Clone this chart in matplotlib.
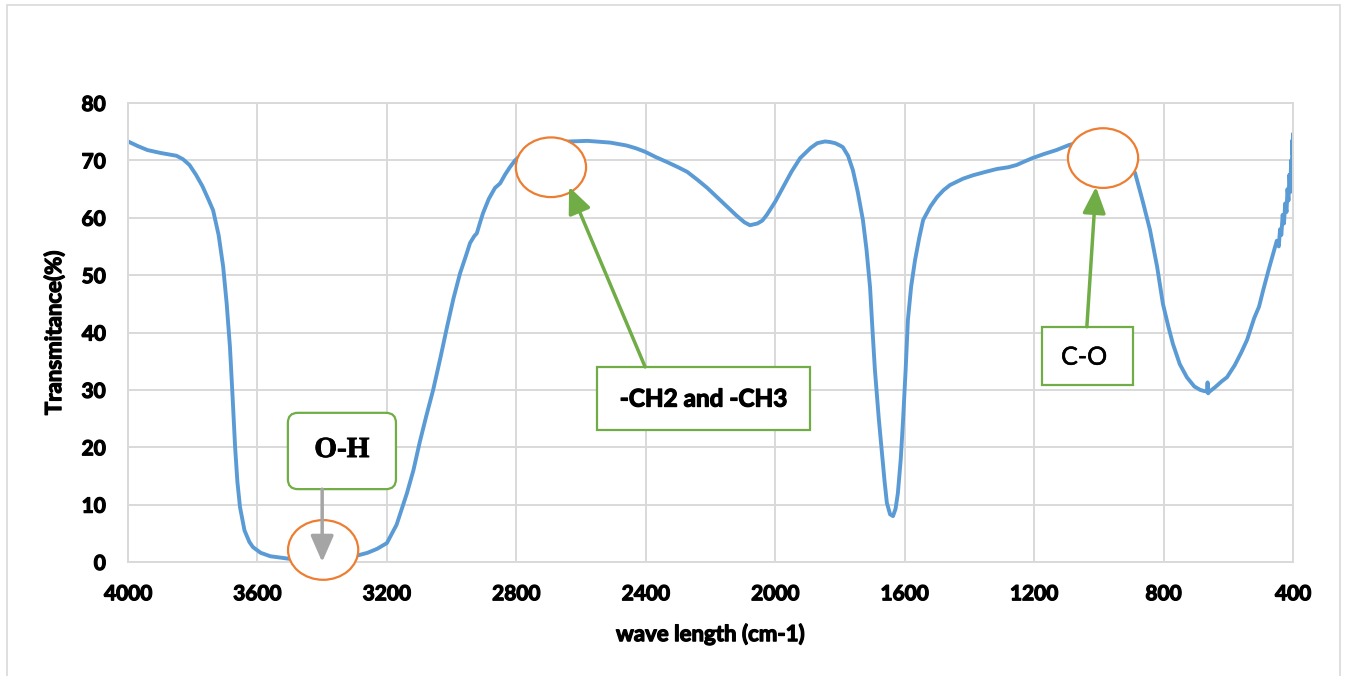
import matplotlib
matplotlib.use("Agg")
import matplotlib.pyplot as plt
import matplotlib.patheffects as pe
from matplotlib.patches import Ellipse, Rectangle, FancyBboxPatch

# ---------------- data ----------------
wavenumber = [
    4000, 3970, 3940, 3900, 3870, 3850, 3830, 3810, 3790, 3770, 3750, 3737,
    3720, 3706, 3695, 3685, 3677, 3669, 3662, 3654, 3640, 3625, 3614, 3590,
    3560, 3521, 3480, 3440, 3400, 3350, 3300, 3260, 3230, 3200, 3170, 3138,
    3118, 3098, 3078, 3057, 3035, 3014, 2994, 2974, 2955, 2943, 2930, 2922,
    2913, 2903, 2885, 2866, 2850, 2835, 2820, 2804, 2780, 2750, 2700, 2660,
    2634, 2580, 2510, 2460, 2430, 2402, 2370, 2334, 2300, 2272, 2240, 2210,
    2180, 2150, 2120, 2095, 2078, 2055, 2040, 2026, 2000, 1976, 1950, 1923,
    1890, 1870, 1846, 1831, 1815, 1800, 1791, 1775, 1760, 1745, 1729, 1718,
    1707, 1700, 1692, 1680, 1670, 1662, 1655, 1645, 1636, 1628, 1621, 1612,
    1605, 1597, 1590, 1580, 1568, 1555, 1543, 1520, 1500, 1480, 1460, 1420,
    1389, 1350, 1315, 1280, 1254, 1230, 1205, 1170, 1131, 1091, 1050, 1000,
    960, 920, 888, 865, 842, 820, 802, 785, 771, 750, 728, 705, 687, 675,
    666, 664, 662, 660, 640, 620, 604, 580, 560, 542, 520, 505, 492, 475,
    460, 450, 444, 440, 436, 432, 428, 424, 420, 417, 414, 411, 408, 406,
    404, 402, 401, 400]
transmittance = [
    73.3, 72.5, 71.8, 71.3, 71.0, 70.8, 70.2, 69.2, 67.5, 65.5, 63.0, 61.3,
    57.0, 51.5, 45.0, 37.5, 29.0, 20.0, 14.0, 9.6, 5.5, 3.5, 2.6, 1.6,
    1.0, 0.7, 0.4, 0.3, 0.3, 0.5, 1.0, 1.6, 2.3, 3.3, 6.5, 12.0,
    16.0, 21.0, 25.5, 30.0, 35.5, 41.0, 46.0, 50.3, 53.5, 55.6, 56.8, 57.3,
    59.0, 60.8, 63.3, 65.2, 66.0, 67.5, 68.8, 70.0, 71.2, 72.2, 72.9, 73.2,
    73.3, 73.4, 73.1, 72.6, 72.1, 71.5, 70.6, 69.7, 68.8, 68.0, 66.6, 65.2,
    63.6, 62.0, 60.4, 59.2, 58.7, 59.0, 59.5, 60.5, 62.8, 65.3, 68.0, 70.4,
    72.2, 73.0, 73.3, 73.2, 73.0, 72.6, 72.3, 70.8, 68.3, 64.5, 59.6, 54.5,
    47.9, 41.0, 33.5, 25.0, 19.0, 14.0, 10.3, 8.3, 8.0, 9.3, 12.0, 18.0,
    24.7, 33.5, 42.2, 48.0, 52.6, 56.5, 59.6, 62.0, 63.6, 64.8, 65.7, 66.8,
    67.4, 68.0, 68.5, 68.8, 69.2, 69.8, 70.4, 71.1, 71.8, 72.7, 73.2, 73.0,
    71.8, 70.5, 67.8, 63.0, 57.9, 51.5, 45.0, 41.0, 38.0, 34.5, 32.2, 30.6, 30.0, 29.8,
    29.7, 31.3, 29.4, 29.6, 30.5, 31.5, 32.2, 34.3, 36.5, 38.7, 42.5, 44.5, 47.4, 51.0,
    54.0, 56.0, 55.0, 58.0, 57.0, 60.5, 59.0, 62.5, 61.0, 65.0, 63.0, 67.5, 64.5, 70.0,
    66.0, 73.5, 71.0, 74.5]

x_ticks = [4000, 3600, 3200, 2800, 2400, 2000, 1600, 1200, 800, 400]
y_ticks = [0, 10, 20, 30, 40, 50, 60, 70, 80]

# ---------------- styling ----------------
BLUE = "#5B9BD5"
ORANGE = "#ED7D31"
GREEN = "#70AD47"
GRAY = "#A5A5A5"
GRID = "#D9D9D9"
FONT = ["Lato", "DejaVu Sans"]
HEAVY = "bold"
THICK = [pe.withStroke(linewidth=0.9, foreground="black")]

fig = plt.figure(figsize=(13.47, 6.76), dpi=100)
fig.patch.set_facecolor("white")
fig.patches.append(Rectangle((7 / 1347, -0.02), 1333 / 1347, 1 - 5 / 676 + 0.02,
                             transform=fig.transFigure, fill=False,
                             edgecolor=GRID, lw=1.2))

ax = fig.add_axes([128 / 1347, 114 / 676, 1165 / 1347, 459 / 676])
ax.set_xlim(4000, 400)
ax.set_ylim(0, 80)
ax.set_xticks(x_ticks)
ax.set_yticks(y_ticks)
ax.set_xticklabels([str(v) for v in x_ticks])
ax.set_yticklabels([str(v) for v in y_ticks])
ax.grid(True, color=GRID, lw=1.4)
ax.set_axisbelow(True)
for sp in ax.spines.values():
    sp.set_color(GRID)
    sp.set_linewidth(1.4)
ax.tick_params(length=0, pad=16, labelsize=15)
for lab in ax.get_xticklabels() + ax.get_yticklabels():
    lab.set_fontfamily(FONT)
    lab.set_fontweight(HEAVY)
    lab.set_path_effects(THICK)

ax.plot(wavenumber, transmittance, color=BLUE, lw=2.8, zorder=2,
        solid_joinstyle="round")

ax.set_xlabel("wave length (cm-1)", fontsize=16, fontweight=HEAVY, family=FONT,
              path_effects=THICK)
ax.set_ylabel("Transmitance(%)", fontsize=16, fontweight=HEAVY, family=FONT,
              path_effects=THICK)
ax.xaxis.set_label_coords(0.5, -0.133)
ax.yaxis.set_label_coords(-0.054, 0.5)

# ---------------- annotations ----------------
def circle(cx, cy):
    ax.add_patch(Ellipse((cx, cy), 217, 10.4, facecolor="white",
                         edgecolor=ORANGE, lw=1.6, zorder=3, clip_on=False))

circle(3397, 2.1)
circle(2693, 68.8)
circle(987, 70.4)

ARROW = "-|>,head_length=0.8,head_width=0.35"

# O-H rounded box
ax.add_patch(FancyBboxPatch((3172, 12.7), 334, 13.3,
                            boxstyle="round,pad=0,rounding_size=31",
                            mutation_aspect=0.0564, facecolor="white",
                            edgecolor=GREEN, lw=1.6, zorder=4))
ax.text(3339, 19.6, "O-H", ha="center", va="center", fontsize=21,
        fontweight="bold", family=["Liberation Serif", "DejaVu Serif"], zorder=5,
        path_effects=[pe.withStroke(linewidth=0.6, foreground="black")])
ax.annotate("", xy=(3400, 0.0), xytext=(3400, 12.7),
            arrowprops=dict(arrowstyle=ARROW, color=GRAY, lw=2.5,
                            shrinkA=0, shrinkB=0, mutation_scale=20), zorder=6)

# -CH2 and -CH3 box
ax.add_patch(Rectangle((1893, 23.0), 658, 11.0, facecolor="white",
                       edgecolor=GREEN, lw=1.6, zorder=4))
ax.text(2222, 28.4, "-CH2 and -CH3", ha="center", va="center", fontsize=17.5,
        fontweight=HEAVY, family=FONT, zorder=5, path_effects=THICK)
ax.annotate("", xy=(2637, 65.4), xytext=(2402, 34.0),
            arrowprops=dict(arrowstyle=ARROW, color=GREEN, lw=2.5,
                            shrinkA=0, shrinkB=0, mutation_scale=20), zorder=6)

# C-O box
ax.add_patch(Rectangle((894, 30.8), 282, 10.2, facecolor="white",
                       edgecolor=GREEN, lw=1.6, zorder=4))
ax.text(1046, 35.7, "C-O", ha="center", va="center", fontsize=18,
        family=FONT, zorder=5,
        path_effects=[pe.withStroke(linewidth=0.4, foreground="black")])
ax.annotate("", xy=(1009, 65.4), xytext=(1037, 41.0),
            arrowprops=dict(arrowstyle=ARROW, color=GREEN, lw=2.5,
                            shrinkA=0, shrinkB=0, mutation_scale=20), zorder=6)

fig.savefig("out.png", dpi=100, facecolor="white")
